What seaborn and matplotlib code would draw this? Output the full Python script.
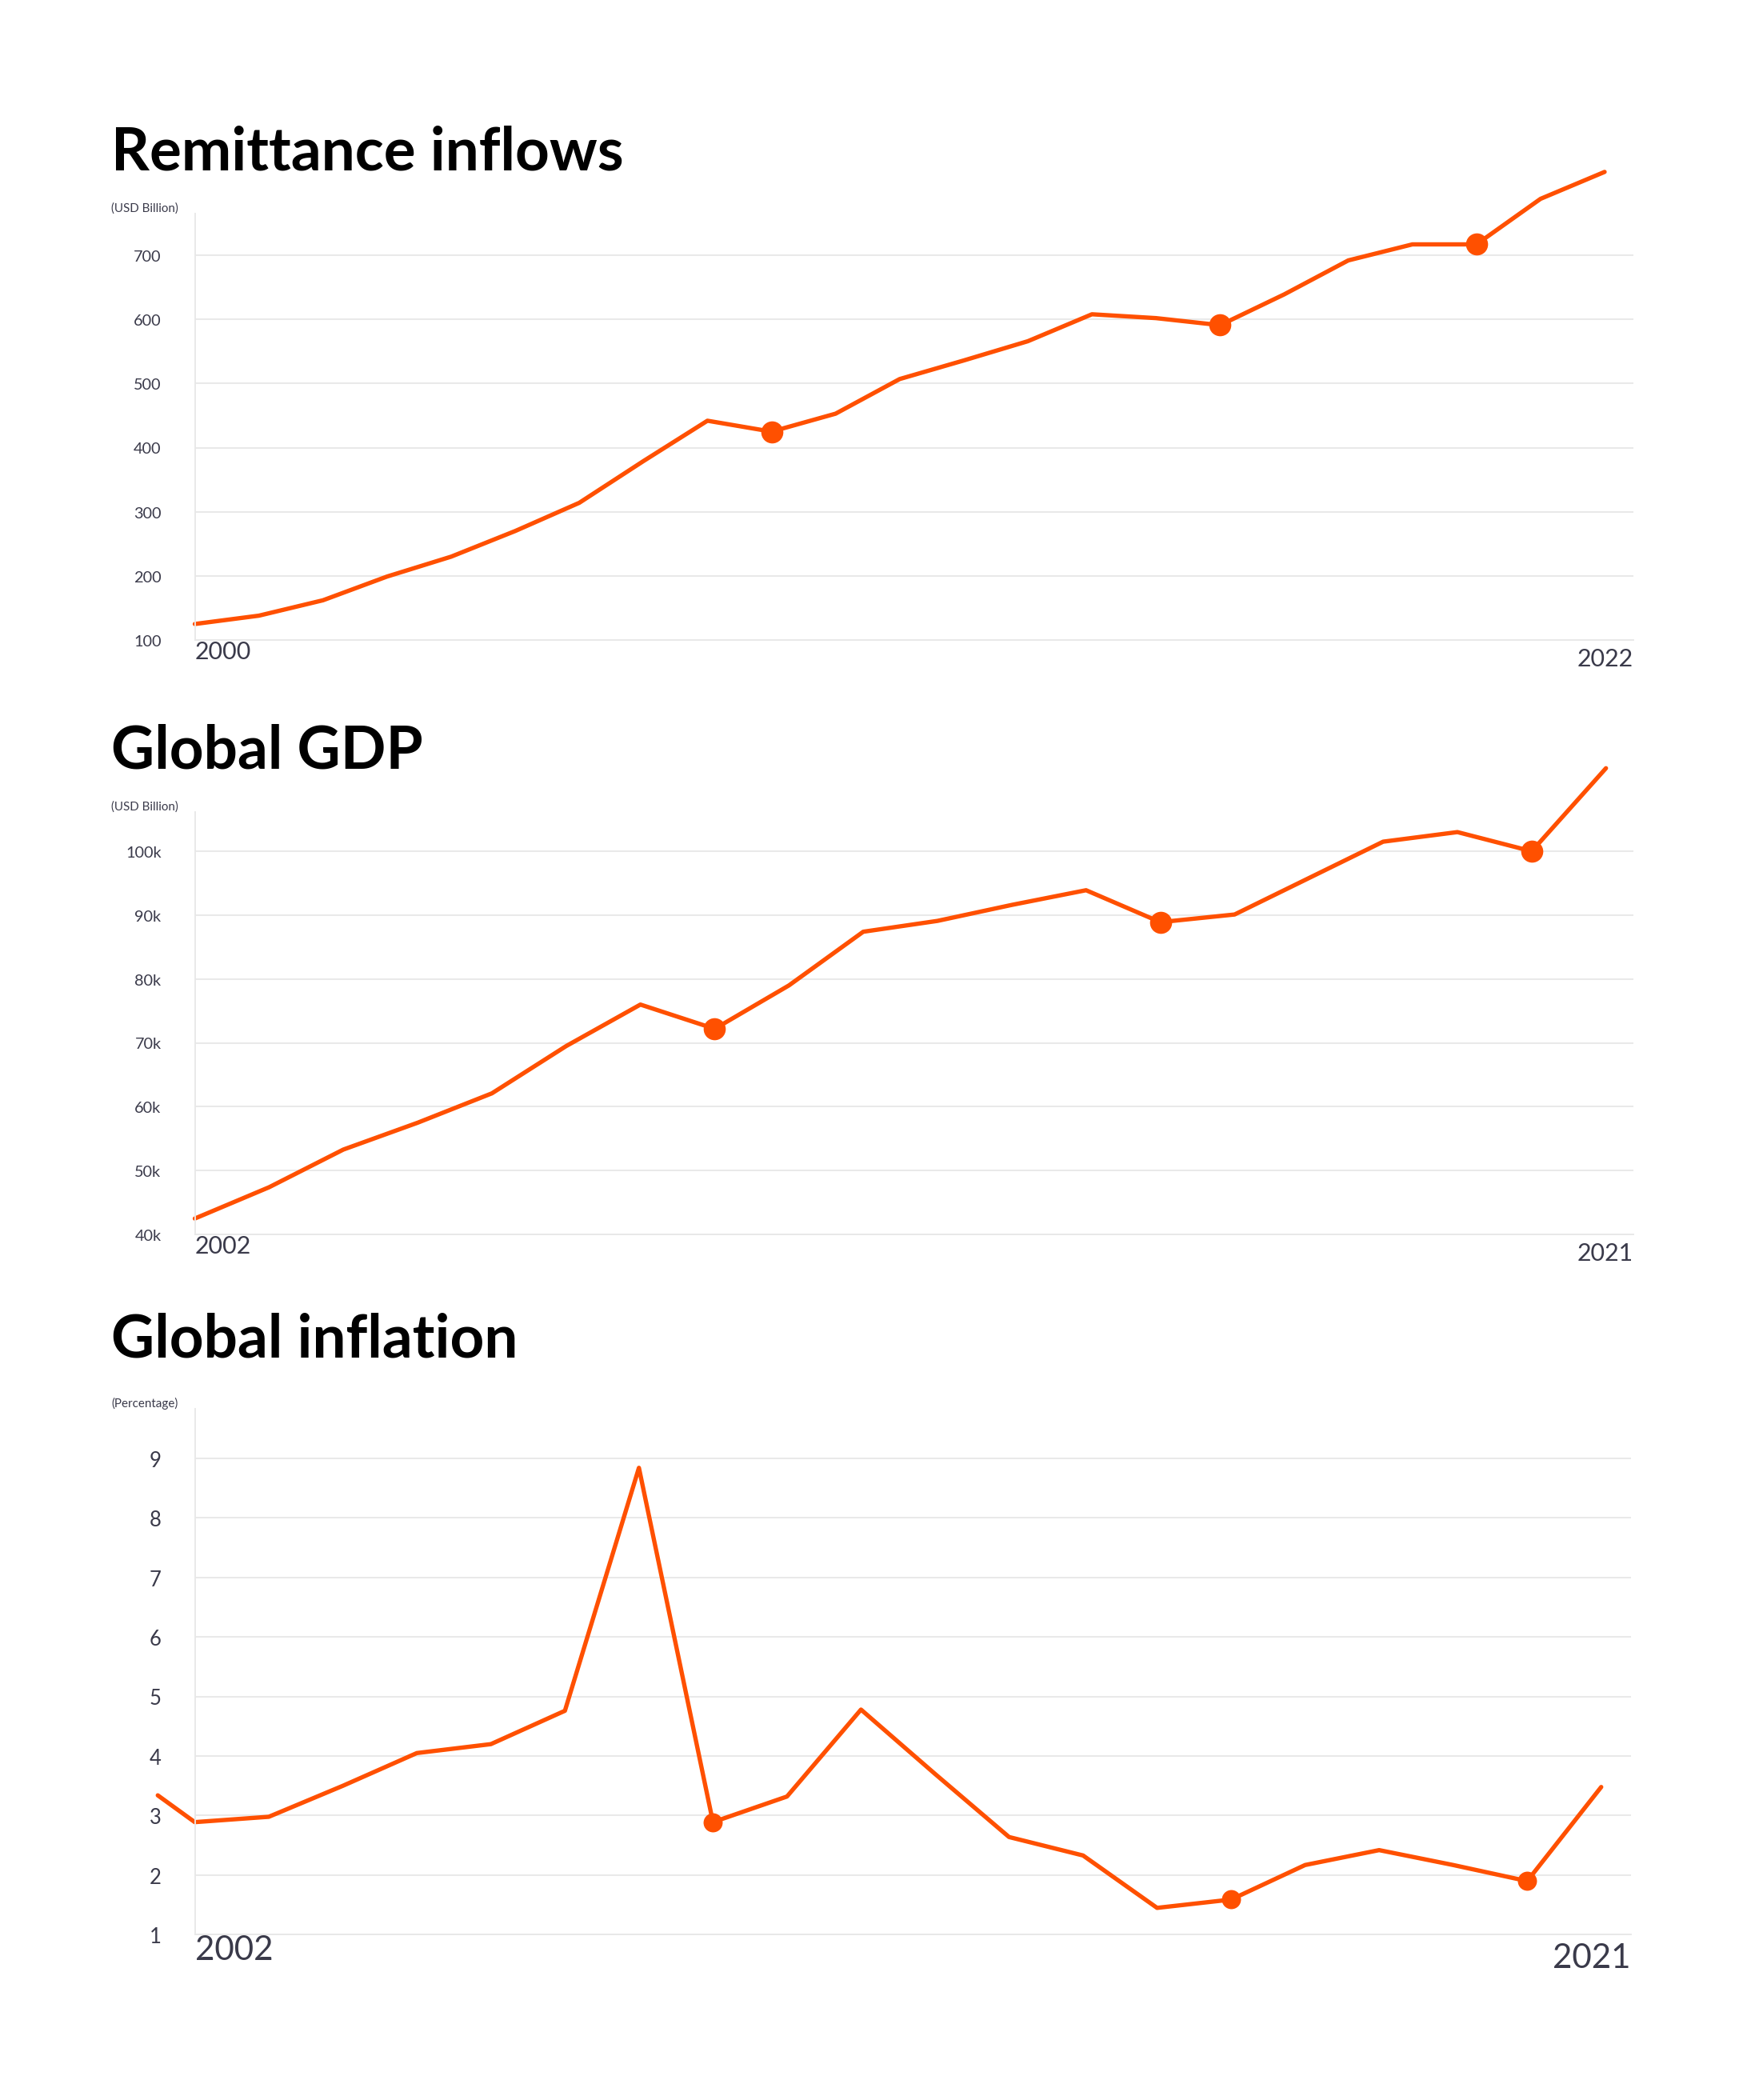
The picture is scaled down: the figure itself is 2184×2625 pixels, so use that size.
import numpy as np
import pandas as pd
import matplotlib
matplotlib.use('Agg')
import matplotlib.pyplot as plt
import seaborn as sns

sns.set_style('white')
plt.rcParams['font.family'] = ['Lato', 'DejaVu Sans']

ORANGE = '#FF5000'
GRID = '#e8e8e8'
TICK = '#3a3a4a'

# Remittance inflows (USD Billion)
rem_years = list(range(2000, 2023))
rem_values = [125, 138, 162, 199, 230, 270, 314, 379, 442, 425, 453, 507, 536,
              566, 608, 602, 591, 639, 692, 717, 717, 788, 830]
rem_marks = [2009, 2016, 2020]
rem_ticks = [100, 200, 300, 400, 500, 600, 700]

# Global GDP (USD Billion, thousands)
gdp_years = list(range(2002, 2022))
gdp_values = [42.5, 47.4, 53.3, 57.5, 62.1, 69.5, 76.0, 72.2, 79.0, 87.4, 89.1,
              91.6, 93.9, 88.9, 90.1, 95.8, 101.5, 103.0, 100.0, 113.0]
gdp_marks = [2009, 2015, 2020]
gdp_ticks = [40, 50, 60, 70, 80, 90, 100]

# Global inflation (percentage)
inf_years = [2001.5] + list(range(2002, 2022))
inf_values = [3.34, 2.89, 2.98, 3.5, 4.05, 4.2, 4.76, 8.84, 2.89, 3.32, 4.78,
              3.7, 2.64, 2.33, 1.45, 1.59, 2.17, 2.42, 2.17, 1.9, 3.48]
inf_marks = [2009, 2016, 2020]
inf_ticks = [1, 2, 3, 4, 5, 6, 7, 8, 9]

fig = plt.figure(figsize=(13, 15.63), dpi=168)


def panel(rect, title, unit, years, values, marks, ticks, xlim, ylim,
          tick_fmt, ytick_size, xtick_size, ms):
    ax = fig.add_axes(rect)
    df = pd.DataFrame({'year': years, 'value': values})
    sns.lineplot(data=df, x='year', y='value', ax=ax, color=ORANGE,
                 linewidth=2.3, clip_on=False)
    mk = df[df['year'].isin(marks)]
    sns.scatterplot(data=mk, x='year', y='value', ax=ax, color=ORANGE,
                    s=ms, edgecolor=ORANGE, zorder=5, clip_on=False)
    ax.set_xlim(*xlim)
    ax.set_ylim(*ylim)
    ax.set_yticks(ticks)
    ax.set_yticklabels([tick_fmt(t) for t in ticks], color=TICK,
                       fontsize=ytick_size)
    ax.yaxis.grid(True, color=GRID, linewidth=0.8)
    ax.set_xticks([])
    ax.set_xlabel('')
    ax.set_ylabel('')
    ax.tick_params(axis='y', length=0, pad=18)
    for s in ['top', 'right']:
        ax.spines[s].set_visible(False)
    ax.spines['left'].set_color(GRID)
    ax.spines['bottom'].set_color(GRID)
    ax.text(years[0] if years[0] == int(years[0]) else years[1], ylim[0],
            str(int(xlim[0])), transform=ax.transData, ha='left', va='top',
            fontsize=xtick_size, color=TICK)
    ax.text(1.0, 0, '', transform=ax.transAxes)
    ax.annotate(str(max(y for y in years)), xy=(1.0, 0),
                xycoords='axes fraction', xytext=(0, -4),
                textcoords='offset points', ha='right', va='top',
                fontsize=xtick_size, color=TICK)
    ax.text(-0.058, 1.0, unit, transform=ax.transAxes, ha='left',
            va='bottom', fontsize=6.5, color=TICK)
    ax.text(-0.058, 1.08, title, transform=ax.transAxes, ha='left',
            va='bottom', fontsize=32, fontweight='bold', color='black')
    return ax


panel([0.1115, 0.695, 0.8235, 0.203], 'Remittance inflows', '(USD Billion)',
      rem_years, rem_values, rem_marks, rem_ticks, (2000, 2022.45),
      (100, 765), lambda t: str(t), 8.5, 13, 120)

panel([0.1115, 0.412, 0.8235, 0.201], 'Global GDP', '(USD Billion)',
      gdp_years, gdp_values, gdp_marks, gdp_ticks, (2002, 2021.37),
      (40, 106.1), lambda t: f'{t}k', 8.5, 13, 120)

panel([0.1115, 0.0787, 0.822, 0.2503], 'Global inflation', '(Percentage)',
      inf_years, inf_values, inf_marks, inf_ticks, (2002, 2021.4),
      (1, 9.83), lambda t: str(t), 11, 18, 90)

fig.savefig('out.png', dpi=168, facecolor='white')
